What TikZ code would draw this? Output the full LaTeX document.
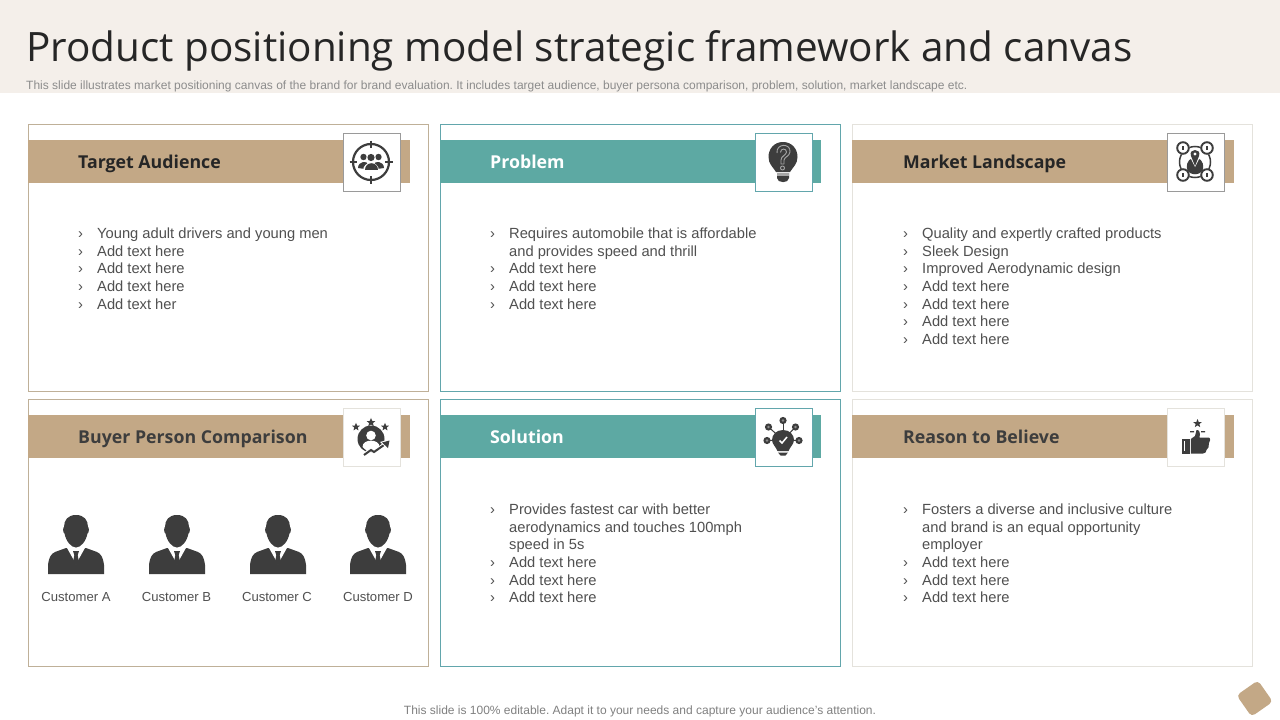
\documentclass[tikz,border=0pt]{standalone}
\usepackage{fontspec}
\setmainfont{Liberation Sans}
\newfontfamily\titlefont{Open Sans}
\usetikzlibrary{shapes.geometric}
\definecolor{tanc}{HTML}{C3A886}
\definecolor{tealc}{HTML}{5DA9A3}
\definecolor{ink}{HTML}{3D3D3D}
\definecolor{body}{HTML}{505050}
\definecolor{topband}{HTML}{F4EFEA}
\definecolor{tanline}{HTML}{BFB098}
\definecolor{tealline}{HTML}{62A6AC}
\definecolor{lightline}{HTML}{E4E2DC}
\definecolor{greyline}{HTML}{9A9A9A}
\tikzset{
 panelbox/.style={draw=#1,line width=0.9pt,fill=white,anchor=north west,minimum width=400pt,minimum height=267pt,inner sep=0pt,outer sep=0pt},
 bandbox/.style={fill=#1,anchor=north west,minimum width=382pt,minimum height=43pt,inner sep=0pt,outer sep=0pt},
 iconbox/.style={draw=#1,line width=0.9pt,fill=white,anchor=north west,minimum width=56.5pt,minimum height=57.5pt,inner sep=0pt,outer sep=0pt},
 headtext/.style={anchor=base west,inner sep=0pt,font=\titlefont\fontsize{17.75}{22}\selectfont\bfseries},
 listtext/.style={anchor=base west,inner sep=0pt,text=body,font=\fontsize{14.7}{17}\selectfont},
 custtext/.style={anchor=base,inner sep=0pt,text=body,font=\fontsize{13.1}{16}\selectfont},
 icline/.style={draw=ink,line width=1.5pt}
}
\newcommand{\bul}[4]{\node[listtext] (#1b) at (#2,#3+5) {›};\node[listtext] (#1) at (#2+19,#3+5) {#4};}
\newcommand{\cont}[4]{\node[listtext] (#1) at (#2+19,#3+5) {#4};}
\newcommand{\person}[2]{%
\begin{scope}[shift={(#1,#2)}]
\fill[ink] (-28,59) -- (-28,50) .. controls (-27,42) and (-25,39) .. (-21,37) -- (-10,33) -- (10,33) -- (21,37) .. controls (25,39) and (27,42) .. (28,50) -- (28,59) -- cycle;
\fill[white] (-9.5,32) -- (0,49) -- (9.5,32) -- cycle;
\fill[ink] (-3,36) -- (3,36) -- (1.7,40) -- (2.8,46) -- (0,50) -- (-2.8,46) -- (-1.7,40) -- cycle;
\fill[ink] (0,0) .. controls (8,0) and (12,5) .. (12,12) .. controls (13.2,12) and (13.2,18) .. (11.5,18.5) .. controls (10,26) and (5,32.5) .. (0,32.5) .. controls (-5,32.5) and (-10,26) .. (-11.5,18.5) .. controls (-13.2,18) and (-13.2,12) .. (-12,12) .. controls (-12,5) and (-8,0) .. (0,0) -- cycle;
\end{scope}}
\newcommand{\starshape}[3]{\fill[ink] (#1,#2-#3)
 -- (#1+0.27*#3,#2-0.33*#3) -- (#1+0.95*#3,#2-0.31*#3) -- (#1+0.42*#3,#2+0.12*#3) -- (#1+0.59*#3,#2+0.81*#3)
 -- (#1,#2+0.42*#3) -- (#1-0.59*#3,#2+0.81*#3) -- (#1-0.42*#3,#2+0.12*#3) -- (#1-0.95*#3,#2-0.31*#3) -- (#1-0.27*#3,#2-0.33*#3) -- cycle;}
\frenchspacing
\begin{document}
\begin{tikzpicture}[x=1pt,y=-1pt]
\useasboundingbox (0,0) rectangle (1280,720);
\fill[white] (0,0) rectangle (1280,720);
\fill[topband] (0,0) rectangle (1280,93);
\node[anchor=base west,inner sep=0pt,text=black!85,font=\titlefont\fontsize{40.45}{48}\selectfont] (title) at (26,61) {Product positioning model strategic framework and canvas};
\node[anchor=base west,inner sep=0pt,text=black!45,font=\fontsize{12}{14}\selectfont] (sub) at (26,89) {This slide illustrates market positioning canvas of the brand for  brand evaluation. It includes target audience, buyer persona comparison, problem, solution, market landscape etc.};
% panels
\node[panelbox=tanline] (p1) at (28.5,124.5) {};
\node[panelbox=tealline] (p2) at (440.5,124.5) {};
\node[panelbox=lightline] (p3) at (852.5,124.5) {};
\node[panelbox=tanline] (p4) at (28.5,399.5) {};
\node[panelbox=tealline] (p5) at (440.5,399.5) {};
\node[panelbox=lightline] (p6) at (852.5,399.5) {};
% bands
\node[bandbox=tanc] (b1) at (28,140) {};
\node[bandbox=tealc,minimum width=381pt] (b2) at (440,140) {};
\node[bandbox=tanc] (b3) at (852,140) {};
\node[bandbox=tanc] (b4) at (28,415) {};
\node[bandbox=tealc,minimum width=381pt] (b5) at (440,415) {};
\node[bandbox=tanc] (b6) at (852,415) {};
% icon boxes
\node[iconbox=greyline] (i1) at (343.5,133.5) {};
\node[iconbox=tealline] (i2) at (755.5,133.5) {};
\node[iconbox=greyline] (i3) at (1167.5,133.5) {};
\node[iconbox=lightline] (i4) at (343.5,408.5) {};
\node[iconbox=tealline] (i5) at (755.5,408.5) {};
\node[iconbox=lightline] (i6) at (1167.5,408.5) {};
% headers
\node[headtext,text=black!85] (h1) at (78,168) {Target Audience};
\node[headtext,text=white] (h2) at (490,168) {Problem};
\node[headtext,text=black!85] (h3) at (903,168) {Market Landscape};
\node[headtext,text=ink] (h4) at (78,443) {Buyer Person Comparison};
\node[headtext,text=white] (h5) at (490,443) {Solution};
\node[headtext,text=ink] (h6) at (903,443) {Reason to Believe};
% lists
\bul{a1}{78}{233}{Young adult drivers and young men}
\bul{a2}{78}{251}{Add text here}
\bul{a3}{78}{268}{Add text here}
\bul{a4}{78}{286}{Add text here}
\bul{a5}{78}{304}{Add text her}
\bul{c1}{490}{233}{Requires automobile that is affordable}
\cont{c2}{490}{251}{and provides speed and thrill}
\bul{c3}{490}{268}{Add text here}
\bul{c4}{490}{286}{Add text here}
\bul{c5}{490}{304}{Add text here}
\bul{m1}{903}{233}{Quality and expertly crafted products}
\bul{m2}{903}{251}{Sleek Design}
\bul{m3}{903}{268}{Improved Aerodynamic design}
\bul{m4}{903}{286}{Add text here}
\bul{m5}{903}{304}{Add text here}
\bul{m6}{903}{321}{Add text here}
\bul{m7}{903}{339}{Add text here}
\bul{s1}{490}{509}{Provides fastest car with better}
\cont{s2}{490}{527}{aerodynamics and touches 100mph}
\cont{s3}{490}{544}{speed in 5s}
\bul{s4}{490}{562}{Add text here}
\bul{s5}{490}{580}{Add text here}
\bul{s6}{490}{597}{Add text here}
\bul{r1}{903}{509}{Fosters a diverse and inclusive culture}
\cont{r2}{903}{527}{and brand is an equal opportunity}
\cont{r3}{903}{544}{employer}
\bul{r4}{903}{562}{Add text here}
\bul{r5}{903}{580}{Add text here}
\bul{r6}{903}{597}{Add text here}
% customers
\person{76}{515}\person{177}{515}\person{278}{515}\person{378}{515}
\node[custtext] (ca) at (76,601) {Customer A};
\node[custtext] (cb) at (176.5,601) {Customer B};
\node[custtext] (cc) at (277,601) {Customer C};
\node[custtext] (cd) at (378,601) {Customer D};
% icon 1: target audience
\begin{scope}[shift={(371,162)}]
\draw[icline,line width=2.2pt] (0,0) circle (18);
\draw[icline,line width=1.8pt] (0,-21.5) -- (0,-14) (0,21.5) -- (0,14) (-21.5,0) -- (-14,0) (21.5,0) -- (14,0);
\fill[ink] (-7.5,-5) circle (3.2) (7.5,-5) circle (3.2);
\fill[ink] (-13,6) .. controls (-13,-1) and (-3,-2) .. (-3,3) -- (-6,7) -- cycle;
\fill[ink] (13,6) .. controls (13,-1) and (3,-2) .. (3,3) -- (6,7) -- cycle;
\fill[white] (0,-4) circle (4.6);
\fill[ink] (0,-4.5) circle (3.6);
\fill[white] (-8.2,8.5) .. controls (-8.2,-2.5) and (8.2,-2.5) .. (8.2,8.5) -- cycle;
\fill[ink] (-6.5,7.5) .. controls (-6.5,-1) and (6.5,-1) .. (6.5,7.5) -- cycle;
\end{scope}
% icon 2: question bulb
\begin{scope}[shift={(783,157)}]
\fill[ink] (0,-15) .. controls (9,-15) and (14.5,-8) .. (14.5,0) .. controls (14.5,7) and (10,10) .. (7,15) -- (-7,15) .. controls (-10,10) and (-14.5,7) .. (-14.5,0) .. controls (-14.5,-8) and (-9,-15) .. (0,-15) -- cycle;
\fill[ink] (-6,16) -- (6,16) -- (6,21) .. controls (6,26.5) and (-6,26.5) .. (-6,21) -- cycle;
\fill[black!35] (-6,16) rectangle (6,19);
\draw[black!35,line width=0.9pt] (-6,-4) .. controls (-7,-14) and (8,-14) .. (7,-5) .. controls (6.5,-1) and (1.5,0) .. (1,3) -- (1,7);
\draw[black!35,line width=0.9pt] (-2.5,-4.5) .. controls (-2.5,-9) and (3.5,-9) .. (3.5,-5) .. controls (3.5,-2) and (-2,-1) .. (-2,3) -- (-2,7) -- (1,7);
\draw[black!35,line width=0.9pt] (-0.5,11) circle (2);
\end{scope}
% icon 3: market landscape
\begin{scope}[shift={(1195,161)}]
\draw[icline] (0,1) circle (15.5);
\foreach \sx/\sy in {-12/-13,12/-13,-12/14,12/14}{
 \fill[white] (\sx,\sy) circle (6.5);
 \draw[icline,line width=1.9pt] (\sx,\sy) circle (5.8);
 \fill[ink] (\sx-1.2,\sy-2) rectangle (\sx+1.2,\sy+1.5);
}
\fill[ink] (-8,8) .. controls (-9,-1) and (-4,-3) .. (0,-3) .. controls (4,-3) and (9,-1) .. (8,8) .. controls (6,15) and (-6,15) .. (-8,8) -- cycle;
\fill[white] (-5,-4) -- (0,6) -- (5,-4) -- cycle;
\fill[ink] (0,5) -- (-4,-5) .. controls (-7,-13) and (7,-13) .. (4,-5) -- cycle;
\fill[white] (0,-7) circle (1.7);
\end{scope}
% icon 4: buyer persona
\starshape{356}{427}{4.2}
\starshape{371}{422.5}{4.6}
\starshape{385}{427}{4.2}
\begin{scope}[shift={(371,439)}]
\fill[ink] (0,0) circle (13.5);
\fill[white] (0,-3.5) circle (4.8);
\fill[white] (-8.5,8) .. controls (-8.5,-0.5) and (8.5,-0.5) .. (8.5,8) -- (4,12) -- (-4,12) -- cycle;
\draw[white,line width=4pt] (-7,16) -- (0,11) -- (3,13) -- (13,6);
\draw[ink,line width=2pt] (-7,16) -- (0,11) -- (3,13) -- (13,6);
\fill[white] (9,3) -- (20,0) -- (18,11) -- cycle;
\fill[ink] (11,3.5) -- (18.5,1.5) -- (17,9) -- cycle;
\end{scope}
% icon 5: solution
\begin{scope}[shift={(783,440)}]
\foreach \ax/\ay in {-16/0.5,-14.5/-13,0/-19.5,12.5/-13,16/0.5}{
 \draw[ink,line width=1pt] (0,0) -- (\ax,\ay);
 \fill[ink] (\ax,\ay) circle (3.6);
 \fill[black!45] (\ax,\ay) circle (1.4);
}
\fill[ink] (0,-10) .. controls (7,-10) and (11,-5) .. (11,0) .. controls (11,4) and (7,7) .. (5.5,11) -- (-5.5,11) .. controls (-7,7) and (-11,4) .. (-11,0) .. controls (-11,-5) and (-7,-10) .. (0,-10) -- cycle;
\fill[ink] (-5,12.5) -- (5,12.5) -- (2.5,15.5) -- (-2.5,15.5) -- cycle;
\draw[white,line width=1.5pt] (-3.5,0.5) -- (-1,3) -- (4,-3);
\end{scope}
% icon 6: thumbs up
\starshape{1197.5}{423.5}{4.5}
\fill[ink] (1190,431) rectangle (1194,432.3) (1201,431) rectangle (1205,432.3);
\fill[ink] (1182,439) rectangle (1190,453.5);
\fill[white] (1184,441) rectangle (1185,451);
\fill[ink] (1190.8,439) -- (1195,436) -- (1196.5,430) .. controls (1199.5,429.5) and (1200.5,433) .. (1199.5,437.5) -- (1209,437.5) .. controls (1210.5,438) and (1210.5,442) .. (1209,443) .. controls (1209.5,446) and (1208,449) .. (1206.5,450) .. controls (1206.5,452) and (1205,453.5) .. (1203,453.5) -- (1190.8,453.5) -- cycle;
% corner mark
\node[fill=tanc,rounded corners=4pt,minimum size=26pt,inner sep=0pt,rotate=35] (corner) at (1254.7,698.5) {};
% footer
\node[anchor=base,inner sep=0pt,text=black!50,font=\fontsize{12}{14}\selectfont] (foot) at (640,714) {This slide is 100\% editable. Adapt it to your needs and capture your audience's attention.};
\end{tikzpicture}
\end{document}
